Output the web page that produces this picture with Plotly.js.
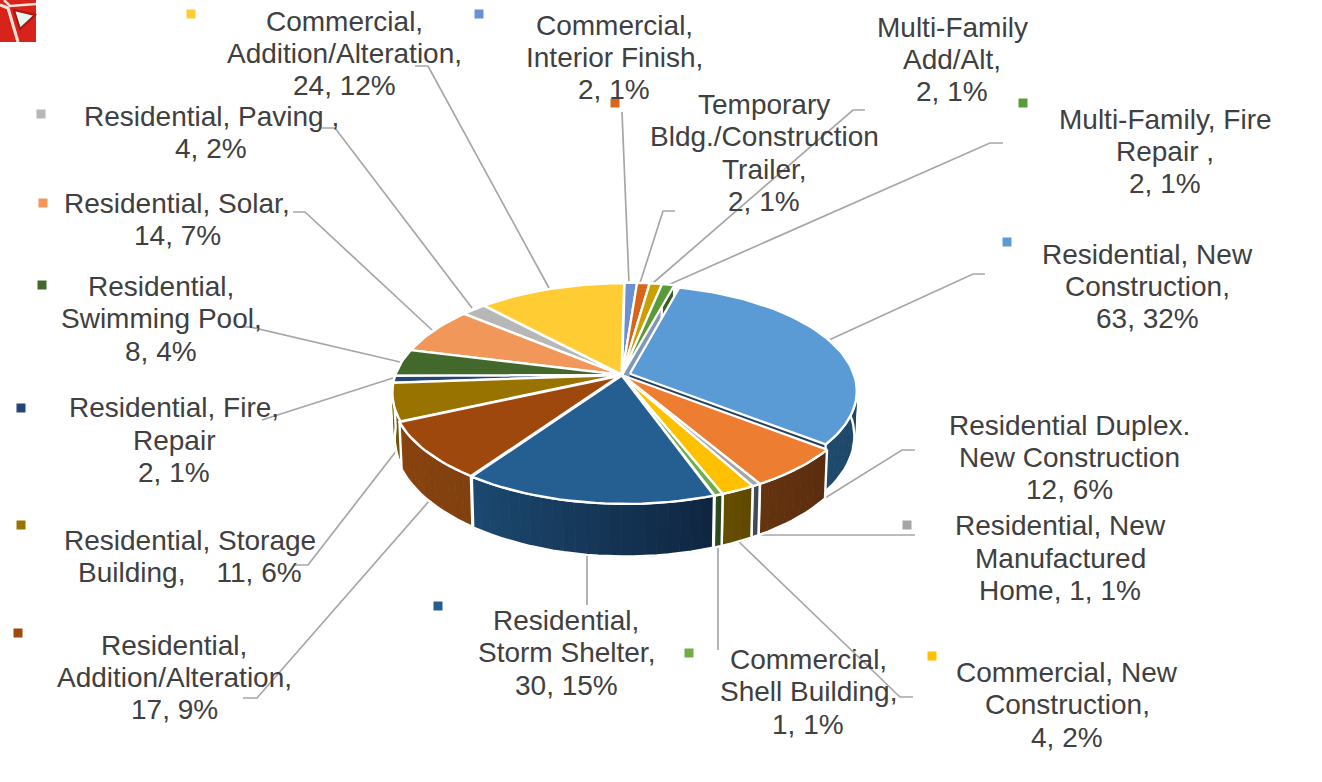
<!DOCTYPE html>
<html><head><meta charset="utf-8">
<script src="https://cdn.plot.ly/plotly-3.0.1.min.js"></script>
<style>html,body{margin:0;padding:0;background:#fff}#chart{width:1322px;height:782px}</style>
</head><body><div id="chart"></div>
<script>
// ---- data, clockwise from 12 o'clock ----
const categories = ["Commercial, Interior Finish","Temporary Bldg./Construction Trailer","Multi-Family Add/Alt","Multi-Family, Fire Repair","Residential, New Construction","Residential Duplex. New Construction","Residential, New Manufactured Home","Commercial, New Construction","Commercial, Shell Building","Residential, Storm Shelter","Residential, Addition/Alteration","Residential, Storage Building","Residential, Fire, Repair","Residential, Swimming Pool","Residential, Solar","Residential, Paving","Commercial, Addition/Alteration"];
const values = [2,2,2,2,63,12,1,4,1,30,17,11,2,8,14,4,24];
const topColors = ["#6a90d4","#d9651a","#c9a000","#5b9a3a","#5b9bd5","#ed7d31","#a5a5a5","#ffc000","#70ad47","#255e91","#9e480e","#997300","#264478","#43682b","#f1975a","#b7b7b7","#ffcd33"];
const wallRight = ["#3f5680","#823d10","#786000","#375d23","#1a3b57","#5a2d0f","#3d4454","#5f4800","#2a471b","#0f2540","#80400f","#6e5300","#1a2f54","#2b431c","#915b36","#6e6e6e","#997b1f"];
const wallLeft  = ["#3f5680","#823d10","#786000","#375d23","#1f4a6c","#653410","#464e60","#664e00","#2f4e1f","#1c4a72","#8a430f","#7a5d00","#1a2f54","#2b431c","#915b36","#6e6e6e","#997b1f"];
const radialWall = ["#3f5680","#823d10","#786000","#8296b8","#1f3f5c","#5a2d0f","#3d4454","#5f4800","#2a471b","#0f2540","#7a3a0c","#6e5300","#1a2f54","#2b431c","#915b36","#6e6e6e","#997b1f"];
const explode = [0.004,0.004,0.004,0.004,0.036,0.006,0.006,0.006,0.006,0.006,0.012,0.006,0.006,0.006,0.006,0.006,0.006];
const radius  = [1,1,1,1,0.962,1,1,1,1,1,0.992,0.992,0.992,0.992,0.99,0.99,0.992];

const labelLines = [
 ["Commercial,","Interior Finish,","2, 1%"],
 ["Temporary","Bldg./Construction","Trailer,","2, 1%"],
 ["Multi-Family","Add/Alt,","2, 1%"],
 ["Multi-Family, Fire","Repair ,","2, 1%"],
 ["Residential, New","Construction,","63, 32%"],
 ["Residential Duplex.","New Construction","12, 6%"],
 ["Residential, New","Manufactured","Home, 1, 1%"],
 ["Commercial, New","Construction,","4, 2%"],
 ["Commercial,","Shell Building,","1, 1%"],
 ["Residential,","Storm Shelter,","30, 15%"],
 ["Residential,","Addition/Alteration,","17, 9%"],
 ["Residential, Storage","Building,\u00a0\u00a0\u00a0\u00a011, 6%"],
 ["Residential, Fire,","Repair","2, 1%"],
 ["Residential,","Swimming Pool,","8, 4%"],
 ["Residential, Solar,","14, 7%"],
 ["Residential, Paving ,","4, 2%"],
 ["Commercial,","Addition/Alteration,","24, 12%"]
];
const labelX = [614,764,952,1165,1147,1069,1060,1067,808,566,174,190,174,161,177,211,344];
const labelY = [[25,57,89],[104,136,169,201],[27,59,91],[119,151,183],[254,286,318],[425,457,489],[525,558,590],[672,704,737],[659,691,724],[620,652,685],[645,677,709],[540,572],[407,440,472],[286,318,351],[203,235],[116,148],[21,53,85]];

const keyX = [479,615,null,1023,1007,null,907,932,689,438,18,21,21,42,43,41,191];
const keyY = [14,103,null,103,242,null,525,656,653,606,633,525,408,285,203,114,14];

const leaderX = [[622,629],[675,663,640],[865,853,653],[1003,990,668],[985,973,829],[915,902,793],[915,752],[913,900,737],[718,718],[587,587],[243,257,430],[295,308,397],[262,393],[237,250,400],[293,305,432],[322,335,472],[415,428,549]];
const leaderY = [[112,283],[211,211,283],[110,110,283],[143,143,285],[274,274,340],[450,450,518],[535,535],[697,697,540],[546,650],[555,605],[698,698,500],[565,565,450],[420,378],[327,327,362],[212,212,330],[128,128,308],[66,66,288]];

// ---- projection of the tilted disc onto the page ----
const cx=622, cy=375, a=230, b=107, k=0.1636, wallH=44, rimShift=0.013;
const total = values.reduce((s,v)=>s+v,0);
function proj(u,v,down){
  const w=1-k*v;
  return [cx+a*u/w*(down?0.99:1), cy+b*v/w+(down?wallH/w:0)];
}
function pt(ang,r,ox,oy,down){ return proj(r*Math.sin(ang)+ox+(r>0?rimShift:0), -r*Math.cos(ang)+oy, down); }
function mix(c1,c2,t){
  const p=c=>[1,3,5].map(i=>parseInt(c.substr(i,2),16));
  const A=p(c1),B=p(c2);
  return "rgb("+A.map((x,i)=>Math.round(x+(B[i]-x)*t)).join(",")+")";
}
function poly(pts,fill,line,lw){
  return {type:"scatter",mode:"lines",x:pts.map(p=>p[0]),y:pts.map(p=>p[1]),fill:"toself",fillcolor:fill,
    line:{color:line||fill,width:lw===undefined?1.2:lw},hoverinfo:"skip",showlegend:false};
}

const slices=[]; let acc=0;
values.forEach((val,i)=>{
  const s=acc/total*2*Math.PI; acc+=val; const e=acc/total*2*Math.PI; const m=(s+e)/2;
  slices.push({i,s,e,m,ox:explode[i]*Math.sin(m),oy:-explode[i]*Math.cos(m),r:radius[i],depth:-Math.cos(m)});
});

const wallTraces=[], topTraces=[];
slices.slice().sort((p,q)=>p.depth-q.depth).forEach(S=>{
  const {i,s,e,ox,oy,r}=S;
  // cut faces turned towards the viewer
  [[s,-Math.sin(s)>0],[e,Math.sin(e)>0]].forEach(([ang,show])=>{
    if(!show) return;
    wallTraces.push(poly([pt(0,0,ox,oy,false),pt(ang,r,ox,oy,false),pt(ang,r,ox,oy,true),pt(0,0,ox,oy,true)],radialWall[i],"#ffffff",0.6));
  });
  // outer rim, shaded along the arc
  const n=Math.max(2,Math.ceil((e-s)/(Math.PI/72)));
  for(let j=0;j<n;j++){
    const A=s+(e-s)*j/n,B=s+(e-s)*(j+1)/n;
    wallTraces.push(poly([pt(A,r,ox,oy,false),pt(B,r,ox,oy,false),pt(B,r,ox,oy,true),pt(A,r,ox,oy,true)],mix(wallRight[i],wallLeft[i],(j+.5)/n)));
  }
  const rim=[];
  for(let j=0;j<=n;j++) rim.push(pt(s+(e-s)*j/n,r,ox,oy,false));
  for(let j=n;j>=0;j--) rim.push(pt(s+(e-s)*j/n,r,ox,oy,true));
  rim.push(rim[0]);
  wallTraces.push({type:"scatter",mode:"lines",x:rim.map(p=>p[0]),y:rim.map(p=>p[1]),line:{color:"#ffffff",width:2.4},hoverinfo:"skip",showlegend:false});
  // top face
  const pts=[pt(0,0,ox,oy,false)];
  const m2=Math.max(2,Math.ceil((e-s)/(Math.PI/90)));
  for(let j=0;j<=m2;j++) pts.push(pt(s+(e-s)*j/m2,r,ox,oy,false));
  pts.push(pts[0]);
  const tr=poly(pts,topColors[i],"#ffffff",2.3);
  tr.name=categories[i]; tr.text=categories[i]+": "+values[i]; tr.hoverinfo="text"; tr.hoveron="fills";
  topTraces.push(tr);
});

const leaderTraces=leaderX.map((xs,i)=>({type:"scatter",mode:"lines",x:xs,y:leaderY[i],line:{color:"#a6a6a6",width:1.7},hoverinfo:"skip",showlegend:false}));
const keyTrace={type:"scatter",mode:"markers",x:keyX,y:keyY,marker:{symbol:"square",size:9,color:topColors,line:{width:0}},hoverinfo:"skip",showlegend:false};

const annotations=[];
labelLines.forEach((lines,i)=>lines.forEach((t,j)=>annotations.push({
  x:labelX[i],y:labelY[i][j],xref:"x",yref:"y",text:t,showarrow:false,xanchor:"center",yanchor:"middle",
  font:{family:"Liberation Sans, Arial, sans-serif",size:28,color:"#404040"}
})));

const logoShapes=[
 {type:"rect",x0:0,x1:36,y0:0,y1:42,fillcolor:"#d8231a",line:{width:0},layer:"below"},
 {type:"path",path:"M 14 10 L 35 15 L 20 29 Z",fillcolor:"#e8f4f2",line:{color:"#a01810",width:2},layer:"below"},
 {type:"path",path:"M 0 5 L 8 8 L 18 42",line:{color:"#f6e2dc",width:3},fillcolor:"rgba(0,0,0,0)",layer:"below"},
 {type:"path",path:"M 4 0 L 10 6 L 36 4",line:{color:"#f6e2dc",width:2.5},fillcolor:"rgba(0,0,0,0)",layer:"below"}
];

Plotly.newPlot("chart",[...leaderTraces,...wallTraces,...topTraces,keyTrace],{
  width:1322,height:782,margin:{l:0,r:0,t:0,b:0,pad:0},paper_bgcolor:"#fff",plot_bgcolor:"#fff",showlegend:false,
  xaxis:{range:[0,1322],visible:false,fixedrange:true},
  yaxis:{range:[782,0],visible:false,fixedrange:true},
  annotations,shapes:logoShapes
},{displayModeBar:false});
</script></body></html>
